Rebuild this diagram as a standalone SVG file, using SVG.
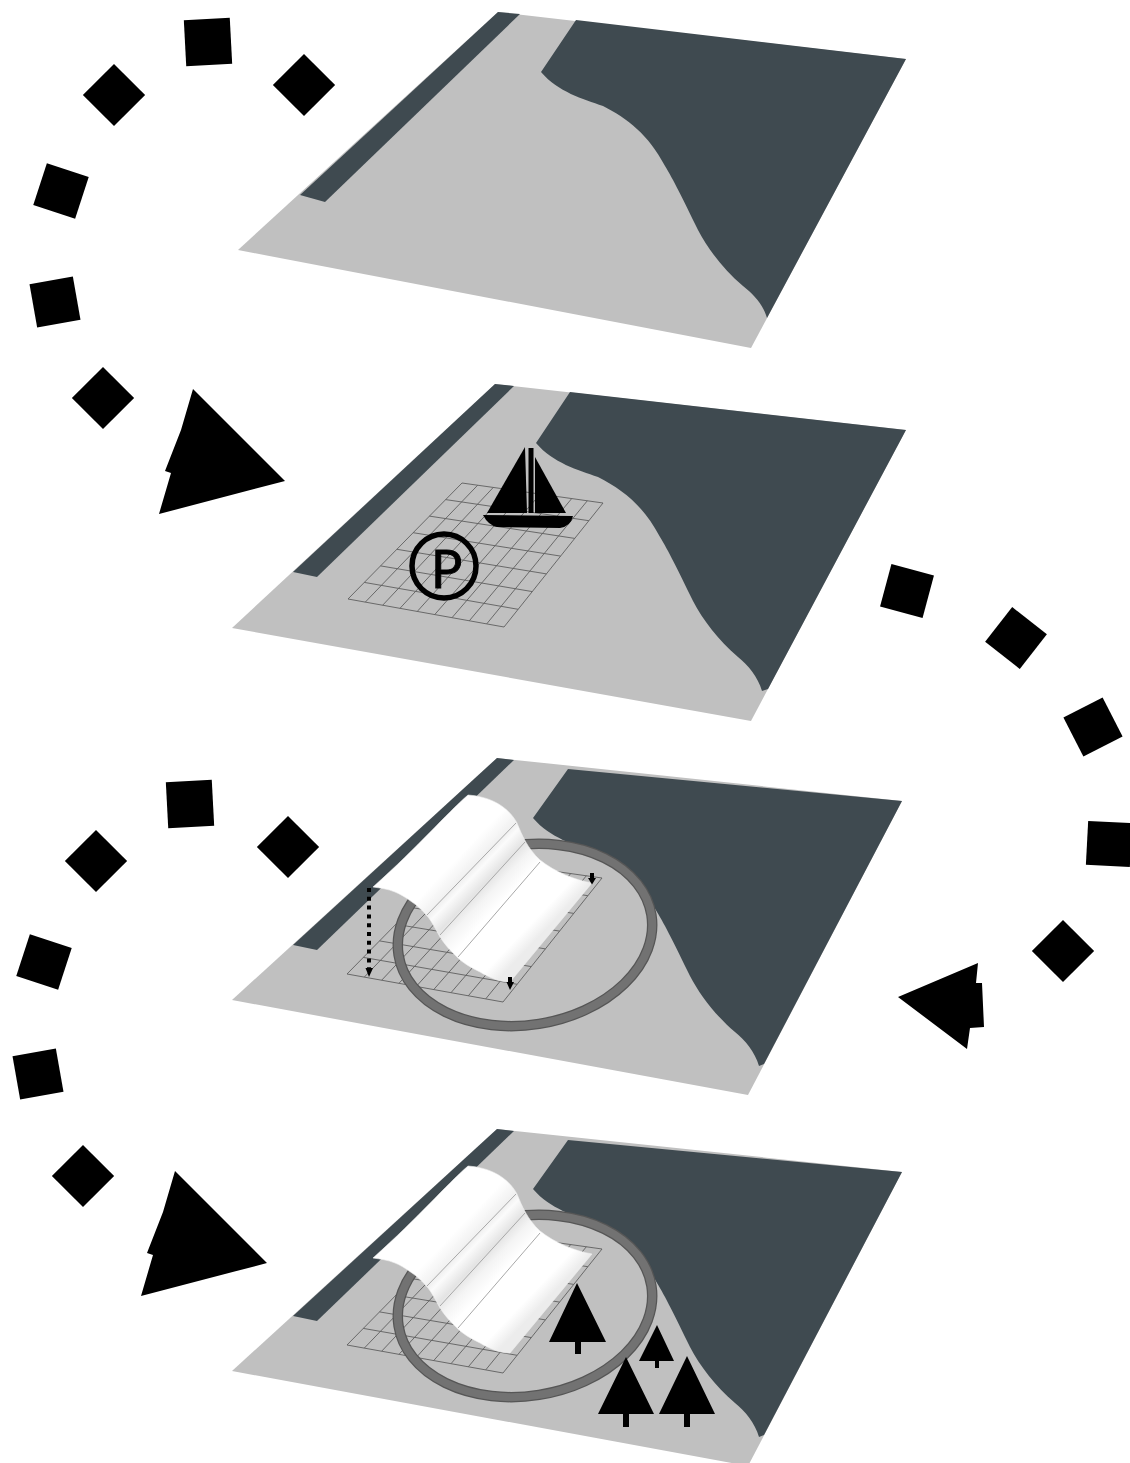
<svg xmlns="http://www.w3.org/2000/svg" xmlns:xlink="http://www.w3.org/1999/xlink" width="1130" height="1463" viewBox="0 0 1130 1463">
<style>
.land{fill:#c0c0c0}
.water{fill:#3f4a50}
.grid{fill:none;stroke:#5f5f5f;stroke-width:.9}
.ringo{fill:none;stroke:#565656;stroke-width:10.500}
.ringi{fill:none;stroke:#727272;stroke-width:8}
.sheet{fill:url(#shade);stroke:#f0f0f0;stroke-width:.6}
.fold{fill:none;stroke:#a8a8a8;stroke-width:1}
.k{fill:#000}
.dots{fill:none;stroke:#000;stroke-width:4;stroke-dasharray:4 4.8}
.stub{fill:none;stroke:#000;stroke-width:4}
</style>
<defs>
<linearGradient id="shade" gradientUnits="userSpaceOnUse" x1="468" y1="795" x2="576" y2="898">
<stop offset="0" stop-color="#fff"/><stop offset=".24" stop-color="#fff"/><stop offset=".36" stop-color="#f0f0f0"/>
<stop offset=".4" stop-color="#fbfbfb"/><stop offset=".49" stop-color="#e4e4e4"/><stop offset=".56" stop-color="#f4f4f4"/>
<stop offset=".66" stop-color="#fff"/><stop offset=".9" stop-color="#fff"/><stop offset="1" stop-color="#ececec"/>
</linearGradient>
<path id="gridp" d="M462,483L348,599M477.7,485.2L365.3,602.1M493.3,487.4L382.7,605.2M509,489.7L400,608.3M524.7,491.9L417.3,611.4M540.3,494.1L434.7,614.6M556,496.3L452,617.7M571.7,498.6L469.3,620.8M587.3,500.8L486.7,623.9M603,503L504,627M462,483L603,503M445.7,499.6L588.9,520.7M429.4,516.1L574.7,538.4M413.1,532.7L560.6,556.1M396.9,549.3L546.4,573.9M380.6,565.9L532.3,591.6M364.3,582.4L518.1,609.3M348,599L504,627"/>
<g id="base34">
<polygon class="land" points="232,1000 497,758 902,801 748,1095"/>
<polygon class="water" points="293,945 497,758 514,760 317,950"/>
<path class="water" d="M568,769L902,801L764,1064L759,1066c-4,-14 -14,-26 -24,-34c-20,-17 -35,-37 -45,-56c-15,-31 -25,-51 -33,-64c-17,-32 -37,-47 -62,-60c-20,-7 -45,-14 -62,-34z"/>
<use xlink:href="#gridp" href="#gridp" class="grid" transform="translate(-1,375)"/>
<ellipse class="ringo" cx="525" cy="935" rx="128" ry="90" transform="rotate(-9 525 935)"/>
<ellipse class="ringi" cx="525" cy="935" rx="128" ry="90" transform="rotate(-9 525 935)"/>
<path class="sheet" d="M373,887C420,845 445,815 468,795C495,797 510,810 517,823C522,835 527,848 540,860C555,872 575,880 592,883L510,982C500,982 490,978 480,972C470,967 463,963 457,957C450,950 445,945 440,937C435,928 432,922 428,917C422,910 418,906 412,902C405,897 400,894 395,892C388,889 380,888 373,887Z"/>
<path class="fold" d="M516,823L427,915M525,842L440,935M540,862L458,957"/>
</g>
</defs>

<g id="plate-1">
<polygon class="land" points="238,250 498,12 906,59 751,348"/>
<polygon class="water" points="300,195 498,12 520,14 325,202"/>
<path class="water" d="M576,20L906,59L767,318c-4,-14 -14,-24 -24,-32c-20,-17 -35,-37 -45,-56c-15,-31 -25,-51 -33,-64c-17,-32 -37,-47 -62,-60c-20,-7 -45,-14 -62,-34z"/>
</g>

<g id="plate-2">
<polygon class="land" points="232,628 495,384 906,430 751,721"/>
<polygon class="water" points="293,572 495,384 514,386 317,577"/>
<path class="water" d="M570,392L906,430L768,689L762,691c-4,-14 -14,-26 -24,-34c-20,-17 -35,-37 -45,-56c-15,-31 -25,-51 -33,-64c-17,-32 -37,-47 -62,-60c-20,-7 -45,-14 -62,-34z"/>
<use xlink:href="#gridp" href="#gridp" class="grid"/>
<g id="boat">
<polygon class="k" points="525,447 487,513 527,513"/>
<rect class="k" x="528.500" y="448" width="5" height="65"/>
<polygon class="k" points="535,457 535,513 566,513"/>
<path class="k" d="M483,515L573,516Q571,526 560,528L497,527Q488,525 483,515Z"/>
</g>
<g id="parking">
<circle cx="444" cy="566" r="32" fill="none" stroke="#000" stroke-width="5.500"/>
<text x="431" y="588" font-family="Lato, 'Liberation Sans', sans-serif" font-size="52" fill="#000" stroke="#000" stroke-width=".9">P</text>
</g>
</g>

<g id="plate-3">
<use xlink:href="#base34" href="#base34"/>
<path class="dots" d="M369,888V968"/>
<polygon class="k" points="365.500,968 373,968 369,977"/>
<path class="stub" d="M592,873V880M510,977V984"/>
<polygon class="k" points="588,878 596,878 592,884.500"/>
<polygon class="k" points="506.500,982 514,982 510,990"/>
</g>

<g id="plate-4">
<use xlink:href="#base34" href="#base34" transform="translate(0,371)"/>
<g id="trees">
<path class="k" d="M577,1283L606,1342H581V1354H575V1342H549Z"/>
<path class="k" d="M657,1325L674,1361H659V1368H655V1361H639Z"/>
<path class="k" d="M626,1357L654,1414H629V1427H623V1414H598Z"/>
<path class="k" d="M687,1356L715,1414H690V1427H684V1414H659Z"/>
</g>
</g>

<g id="connectors" class="k">
<g id="path-a">
<rect x="-22" y="-22" width="44" height="44" transform="translate(304,85) rotate(45)"/>
<rect x="-23" y="-23" width="46" height="46" transform="translate(208,42) rotate(-3)"/>
<rect x="-22" y="-22" width="44" height="44" transform="translate(114,95) rotate(45)"/>
<rect x="-22" y="-22" width="44" height="44" transform="translate(61,191) rotate(18)"/>
<rect x="-22" y="-22" width="44" height="44" transform="translate(55,302) rotate(-10)"/>
<rect x="-22" y="-22" width="44" height="44" transform="translate(103,398) rotate(45)"/>
<polygon points="193,389 285,481 159,514 171,473 165,471 181,430"/>
</g>
<g id="path-b">
<rect x="-22" y="-22" width="44" height="44" transform="translate(907,591) rotate(15)"/>
<rect x="-22" y="-22" width="44" height="44" transform="translate(1016,638) rotate(38)"/>
<rect x="-22" y="-22" width="44" height="44" transform="translate(1093,727) rotate(-27)"/>
<rect x="-22" y="-22" width="44" height="44" transform="translate(1109,844) rotate(3)"/>
<rect x="-22" y="-22" width="44" height="44" transform="translate(1063,951) rotate(45)"/>
<polygon points="898,997 978,963 976,983 982,983 984,1027 970,1028 967,1049"/>
</g>
<g id="path-c">
<rect x="-22" y="-22" width="44" height="44" transform="translate(288,847) rotate(45)"/>
<rect x="-23" y="-23" width="46" height="46" transform="translate(190,804) rotate(-3)"/>
<rect x="-22" y="-22" width="44" height="44" transform="translate(96,861) rotate(45)"/>
<rect x="-22" y="-22" width="44" height="44" transform="translate(44,962) rotate(18)"/>
<rect x="-22" y="-22" width="44" height="44" transform="translate(38,1074) rotate(-10)"/>
<rect x="-22" y="-22" width="44" height="44" transform="translate(83,1176) rotate(45)"/>
<polygon points="175,1171 267,1263 141,1296 153,1255 147,1253 163,1212"/>
</g>
</g>
</svg>
